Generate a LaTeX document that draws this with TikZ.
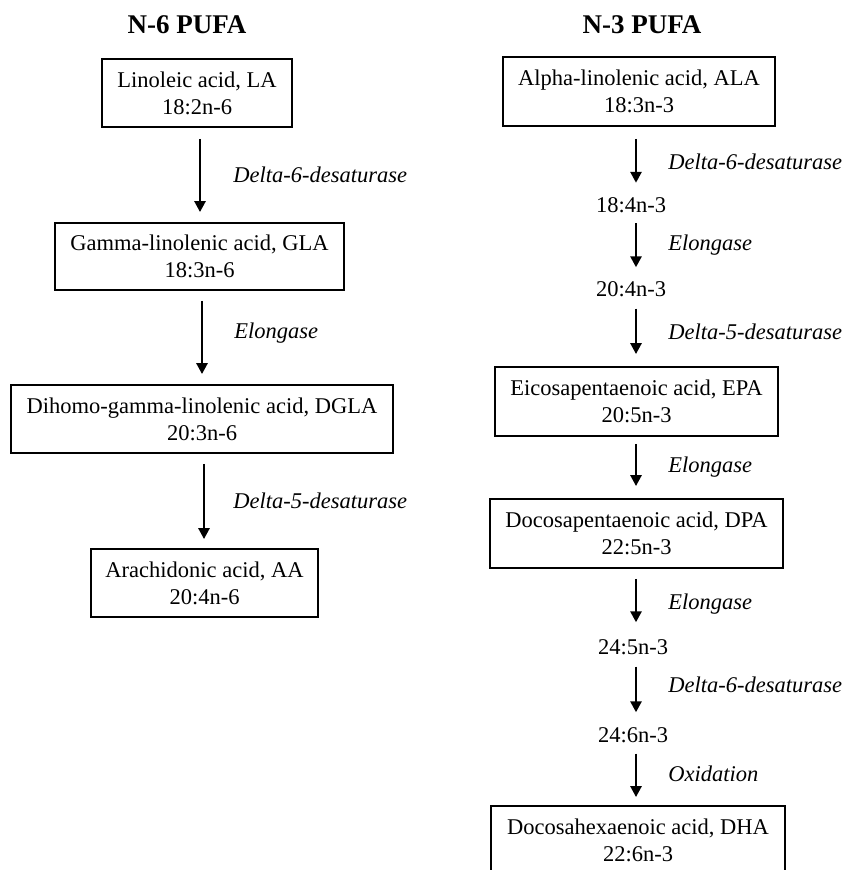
\documentclass[tikz,border=0pt]{standalone}
\usepackage{fontspec}
\setmainfont{Liberation Serif}
\usetikzlibrary{arrows.meta}
\newcommand\bodyfs{\fontsize{22.5}{27}\selectfont}
\newcommand\titlefs{\fontsize{27}{32}\selectfont}
\tikzset{
  box/.style={draw, line width=1.8pt, inner sep=0pt, align=center, font=\bodyfs},
  plain/.style={inner sep=0pt, text height=15pt, text depth=0pt, font=\bodyfs},
  lab/.style={font=\bodyfs\itshape, inner sep=0pt, anchor=west},
  arr/.style={line width=2.6pt, -{Triangle[width=11pt,length=11pt]}},
  ttl/.style={font=\titlefs\bfseries, inner sep=0pt}
}
\begin{document}
\begin{tikzpicture}[x=1pt, y=-1pt]
\useasboundingbox (0,0) rectangle (844,870);
\clip (0,0) rectangle (844,870);
% titles
\node[ttl] (t6) at (187,25) {N-6 PUFA};
\node[ttl] (t3) at (642,25) {N-3 PUFA};
% left column
\node[box, minimum width=190pt, minimum height=68pt] (la) at (197,93) {Linoleic acid, LA\\18:2n-6};
\node[box, minimum width=289pt, minimum height=67pt] (gla) at (199.5,256.5) {Gamma-linolenic acid, GLA\\18:3n-6};
\node[box, minimum width=382pt, minimum height=68pt] (dgla) at (202,419) {Dihomo-gamma-linolenic acid, DGLA\\20:3n-6};
\node[box, minimum width=227pt, minimum height=68pt] (aa) at (204.5,583) {Arachidonic acid, AA\\20:4n-6};
% right column
\node[box, minimum width=272pt, minimum height=69pt] (ala) at (639,91.5) {Alpha-linolenic acid, ALA\\18:3n-3};
\node[plain] (n184) at (631,204.5) {18:4n-3};
\node[plain] (n204) at (631,289) {20:4n-3};
\node[box, minimum width=283pt, minimum height=69pt] (epa) at (636.5,401.5) {Eicosapentaenoic acid, EPA\\20:5n-3};
\node[box, minimum width=293pt, minimum height=69pt] (dpa) at (636.5,533.5) {Docosapentaenoic acid, DPA\\22:5n-3};
\node[plain] (n245) at (633,647) {24:5n-3};
\node[plain] (n246) at (633,735) {24:6n-3};
\node[box, minimum width=294pt, minimum height=68pt] (dha) at (638,840) {Docosahexaenoic acid, DHA\\22:6n-3};
% arrow columns
\coordinate (xa) at (200,0);
\coordinate (xb) at (202,0);
\coordinate (xc) at (204,0);
\coordinate (xr) at (636,0);
% left arrows
\draw[arr, shorten <=11pt, shorten >=10pt] (la.south -| xa) -- (gla.north -| xa)
  node[lab, midway, xshift=32pt] {Delta-6-desaturase};
\draw[arr, shorten <=10pt, shorten >=10pt] (gla.south -| xb) -- (dgla.north -| xb)
  node[lab, midway, xshift=31pt, yshift=4pt] {Elongase};
\draw[arr, shorten <=10pt, shorten >=9pt] (dgla.south -| xc) -- (aa.north -| xc)
  node[lab, midway, xshift=28pt] {Delta-5-desaturase};
% right arrows
\draw[arr, shorten <=12pt, shorten >=14pt] (ala.south -| xr) -- (n184.north -| xr)
  node[lab, midway, xshift=31pt] {Delta-6-desaturase};
\draw[arr, shorten <=11pt, shorten >=14pt] (n184.south -| xr) -- (n204.north -| xr)
  node[lab, midway, xshift=31pt, yshift=2pt] {Elongase};
\draw[arr, shorten <=12pt, shorten >=12pt] (n204.south -| xr) -- (epa.north -| xr)
  node[lab, midway, xshift=31pt] {Delta-5-desaturase};
\draw[arr, shorten <=7pt, shorten >=12pt] (epa.south -| xr) -- (dpa.north -| xr)
  node[lab, midway, xshift=31pt] {Elongase};
\draw[arr, shorten <=10pt, shorten >=17pt] (dpa.south -| xr) -- (n245.north -| xr)
  node[lab, midway, xshift=31pt] {Elongase};
\draw[arr, shorten <=12pt, shorten >=15pt] (n245.south -| xr) -- (n246.north -| xr)
  node[lab, midway, xshift=31pt, yshift=6pt] {Delta-6-desaturase};
\draw[arr, shorten <=11pt, shorten >=8pt] (n246.south -| xr) -- (dha.north -| xr)
  node[lab, midway, xshift=31pt] {Oxidation};
\end{tikzpicture}
\end{document}
